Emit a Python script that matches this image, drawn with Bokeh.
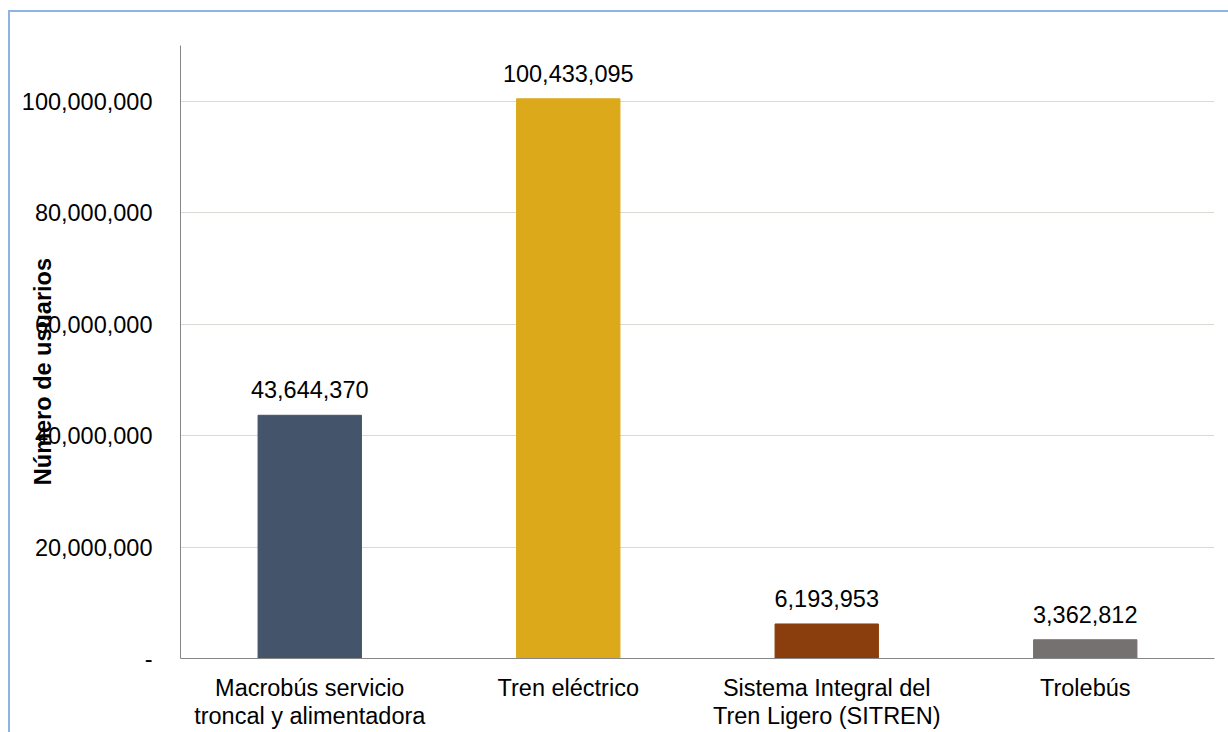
from bokeh.plotting import figure
from bokeh.models import ColumnDataSource, LabelSet, FixedTicker, CustomJSTickFormatter, Range1d
from bokeh.core.properties import value
from bokeh.embed import file_html
from bokeh.resources import INLINE

categories = ["Macrobús servicio\ntroncal y alimentadora", "Tren eléctrico",
              "Sistema Integral del\nTren Ligero (SITREN)", "Trolebús"]
values = [43644370, 100433095, 6193953, 3362812]
colors = ["#44546A", "#DBA91A", "#8A3E0E", "#767171"]
labels = ["43,644,370", "100,433,095", "6,193,953", "3,362,812"]
y_ticks = [0, 20000000, 40000000, 60000000, 80000000, 100000000]
y_title = "Número de usuarios"

FONT = "Liberation Sans"
FS = "23.5px"

src = ColumnDataSource(dict(cat=categories, val=values, color=colors, lab=labels))

p = figure(x_range=categories, y_range=Range1d(0, 110000000), width=1220, height=722,
           output_backend="svg", toolbar_location=None,
           min_border_left=170, min_border_right=16, min_border_top=33, min_border_bottom=76)
p.styles = {"margin-left": "8px", "margin-top": "10px",
            "border-left": "2px solid #8EB4E3", "border-top": "2px solid #8EB4E3",
            "box-sizing": "border-box"}
p.outline_line_color = None
p.vbar(x="cat", top="val", width=0.4, color="color", source=src)

p.add_layout(LabelSet(x="cat", y="val", text="lab", source=src, text_align="center",
                      text_baseline="bottom", y_offset=17, text_font=value(FONT),
                      text_font_size=value(FS), text_color="#000000"))

p.xgrid.grid_line_color = None
p.ygrid.grid_line_color = "#D9DAD4"
p.ygrid.grid_line_width = 1

p.yaxis.ticker = FixedTicker(ticks=y_ticks)
p.yaxis.formatter = CustomJSTickFormatter(code="return tick == 0 ? '-' : tick.toLocaleString('en-US');")
for ax in (p.xaxis, p.yaxis):
    ax.axis_line_color = "#868686"
    ax.axis_line_width = 1
    ax.major_tick_line_color = None
    ax.minor_tick_line_color = None
    ax.major_tick_out = 0
    ax.major_tick_in = 0
    ax.major_label_text_font = FONT
    ax.major_label_text_font_size = FS
    ax.major_label_text_color = "#000000"
p.yaxis.major_label_standoff = 28
p.xaxis.major_label_standoff = 16
p.xaxis.major_label_text_line_height = 1.1

p.yaxis.axis_label = y_title + "\u00a0" * 6
p.yaxis.axis_label_text_font = FONT
p.yaxis.axis_label_text_font_size = FS
p.yaxis.axis_label_text_font_style = "bold"
p.yaxis.axis_label_text_color = "#000000"
p.yaxis.axis_label_standoff = -37

open("out.html", "w").write(file_html(p, INLINE))
